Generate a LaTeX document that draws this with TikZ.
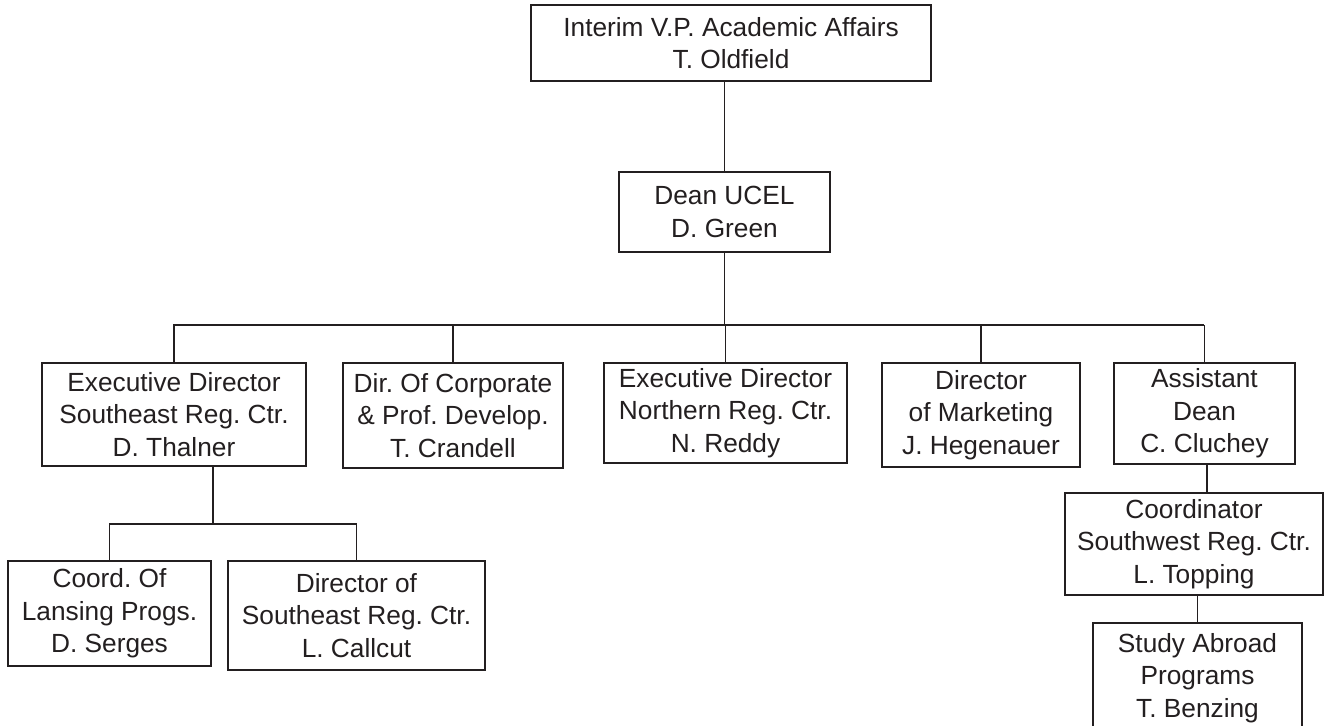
\documentclass[tikz,border=0pt]{standalone}
\usepackage{fontspec}
\setmainfont{Liberation Sans}
\frenchspacing
\definecolor{ink}{RGB}{35,31,32}
\begin{document}
\begin{tikzpicture}[x=0.75pt,y=-0.75pt,
  box/.style={draw=ink,line width=1.4pt,text=ink,align=center,inner sep=0pt,
    font=\fontsize{19.7}{24.5}\selectfont},
  sz/.style 2 args={minimum width=#1*0.75pt,minimum height=#2*0.75pt},
  link/.style={draw=ink,line width=1.4pt}]
\useasboundingbox (0,0) rectangle (1325,725);
\clip (0,0) rectangle (1325,725);
\fill[white] (0,0) rectangle (1325,725);
% nodes
\node[box,sz={400}{76}] (top) at (731,43) {Interim V.P. Academic Affairs\\T. Oldfield};
\node[box,sz={211}{80}] (dean) at (724.5,212) {Dean UCEL\\D. Green};
\node[box,sz={264}{103}] (exec) at (174,414.5) {Executive Director\\Southeast Reg. Ctr.\\D. Thalner};
\node[box,sz={220}{105}] (corp) at (453,415.5) {Dir. Of Corporate\\\& Prof. Develop.\\T. Crandell};
\node[box,sz={243}{100}] (north) at (725.5,413) {Executive Director\\Northern Reg. Ctr.\\N. Reddy};
\node[box,sz={198}{104}] (mkt) at (981,415) {Director\\of Marketing\\J. Hegenauer};
\node[box,sz={181}{101}] (asst) at (1204.5,413.5) {Assistant\\Dean\\C. Cluchey};
\node[box,sz={258}{102}] (sw) at (1194,544) {Coordinator\\Southwest Reg. Ctr.\\L. Topping};
\node[box,sz={209}{110}] (study) at (1197.5,678) {Study Abroad\\Programs\\T. Benzing};
\node[box,sz={203}{105}] (lans) at (109.5,613.5) {Coord. Of\\Lansing Progs.\\D. Serges};
\node[box,sz={257}{109}] (se) at (356.5,615.5) {Director of\\Southeast Reg. Ctr.\\L. Callcut};
% coordinates
\coordinate (busL) at (173,325);
\coordinate (busR) at (1204,325);
\coordinate (subj) at (213,524);
\coordinate (asd) at (1207,493);
% connectors
\draw[link] (dean.north) -- (dean.north |- top.south);
\draw[link] (dean.south) -- (dean.south |- busL);
\draw[link] (busL) -- (busR);
\draw[link] (exec.north) -- (exec.north |- busL);
\draw[link] (corp.north) -- (corp.north |- busL);
\draw[link] (north.north) -- (north.north |- busL);
\draw[link] (mkt.north) -- (mkt.north |- busL);
\draw[link] (asst.north) -- (asst.north |- busL);
\draw[link] (subj |- exec.south) -- (subj);
\draw[link] (lans.north) -- (lans.north |- subj) -| (se.north);
\draw[link] (asd |- asst.south) -- (asd |- sw.north);
\draw[link] (study.north) -- (study.north |- sw.south);
\end{tikzpicture}
\end{document}
